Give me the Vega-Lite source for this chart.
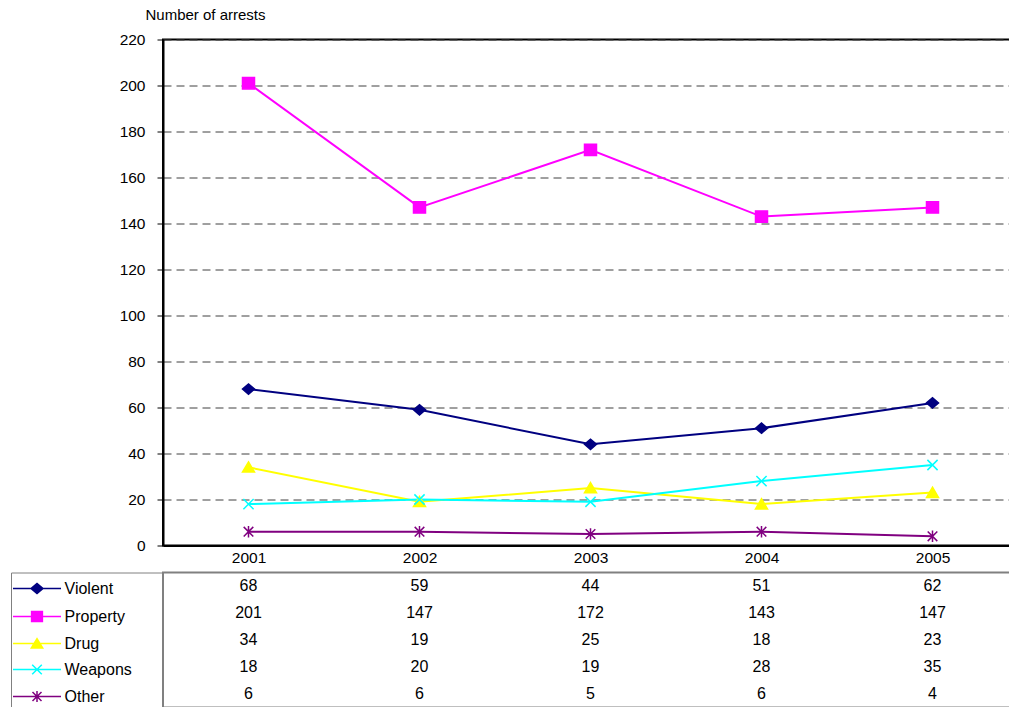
{
  "$schema": "https://vega.github.io/schema/vega-lite/v6.json",
  "padding": {"left": 9, "top": 6.5, "right": 0, "bottom": 0},
  "config": {"font": "Liberation Sans", "axis": {"labelColor": "black", "labelFontSize": 15}, "text": {"font": "Liberation Sans"}},
  "datasets": {
    "arrests": [
      {"series": "Violent", "year": "2001", "value": 68},
      {"series": "Violent", "year": "2002", "value": 59},
      {"series": "Violent", "year": "2003", "value": 44},
      {"series": "Violent", "year": "2004", "value": 51},
      {"series": "Violent", "year": "2005", "value": 62},
      {"series": "Property", "year": "2001", "value": 201},
      {"series": "Property", "year": "2002", "value": 147},
      {"series": "Property", "year": "2003", "value": 172},
      {"series": "Property", "year": "2004", "value": 143},
      {"series": "Property", "year": "2005", "value": 147},
      {"series": "Drug", "year": "2001", "value": 34},
      {"series": "Drug", "year": "2002", "value": 19},
      {"series": "Drug", "year": "2003", "value": 25},
      {"series": "Drug", "year": "2004", "value": 18},
      {"series": "Drug", "year": "2005", "value": 23},
      {"series": "Weapons", "year": "2001", "value": 18},
      {"series": "Weapons", "year": "2002", "value": 20},
      {"series": "Weapons", "year": "2003", "value": 19},
      {"series": "Weapons", "year": "2004", "value": 28},
      {"series": "Weapons", "year": "2005", "value": 35},
      {"series": "Other", "year": "2001", "value": 6},
      {"series": "Other", "year": "2002", "value": 6},
      {"series": "Other", "year": "2003", "value": 5},
      {"series": "Other", "year": "2004", "value": 6},
      {"series": "Other", "year": "2005", "value": 4}
    ]
  },
  "spacing": 27,
  "bounds": "flush",
  "resolve": {
    "scale": {"x": "independent", "y": "independent", "shape": "independent", "fill": "independent", "stroke": "independent"},
    "legend": {"shape": "independent", "fill": "independent", "stroke": "independent"}
  },
  "vconcat": [
    {
      "width": 855,
      "height": 506,
      "data": {"name": "arrests"},
      "view": {"stroke": "black", "strokeWidth": 2},
      "encoding": {
        "x": {
          "field": "year", "type": "ordinal",
          "scale": {"type": "point", "padding": 0.5},
          "axis": {"title": null, "ticks": false, "labelPadding": 5, "labelAngle": 0, "domainColor": "black", "domainWidth": 2, "labelFontSize": 15.5}
        },
        "y": {
          "field": "value", "type": "quantitative",
          "scale": {"domain": [0, 220], "nice": false},
          "axis": {
            "values": [0, 20, 40, 60, 80, 100, 120, 140, 160, 180, 200, 220],
            "title": "Number of arrests", "titleAngle": 0, "titleAlign": "left", "titleBaseline": "middle",
            "titleX": -18, "titleY": -25, "titleFontSize": 15, "titleFontWeight": "normal", "titleColor": "black",
            "grid": true, "gridDash": [8, 5], "gridColor": "#404040", "gridWidth": 1,
            "tickSize": 6, "tickColor": "black", "labelPadding": 12,
            "domainColor": "black", "domainWidth": 2, "labelFontSize": 15.5
          }
        }
      },
      "layer": [
        {
          "mark": {"type": "line", "strokeWidth": 2},
          "encoding": {
            "stroke": {
              "field": "series", "type": "nominal", "legend": null,
              "scale": {"domain": ["Violent", "Property", "Drug", "Weapons", "Other"], "range": ["#000080", "#FF00FF", "#FFFF00", "#00FFFF", "#800080"]}
            }
          }
        },
        {
          "mark": {"type": "point", "filled": true, "size": 144, "strokeWidth": 1.5, "opacity": 1},
          "encoding": {
            "shape": {
              "field": "series", "type": "nominal", "legend": null,
              "scale": {"domain": ["Violent", "Property", "Drug", "Weapons", "Other"], "range": [
                "M-1,0L0,-0.85L1,0L0,0.85Z",
                "M-1,-0.95H1V0.95H-1Z",
                "M0,-0.9L1,0.8L-1,0.8Z",
                "M-0.85,-0.85L0.85,0.85M0.85,-0.85L-0.85,0.85",
                "M-0.8,-0.8L0.8,0.8M0.8,-0.8L-0.8,0.8M0,-0.95V0.95"
              ]}
            },
            "fill": {
              "field": "series", "type": "nominal", "legend": null,
              "scale": {"domain": ["Violent", "Property", "Drug", "Weapons", "Other"], "range": ["#000080", "#FF00FF", "#FFFF00", "#00FFFF", "#800080"]}
            },
            "stroke": {
              "field": "series", "type": "nominal", "legend": null,
              "scale": {"domain": ["Violent", "Property", "Drug", "Weapons", "Other"], "range": ["#000080", "#FF00FF", "#FFFF00", "#00FFFF", "#800080"]}
            }
          }
        }
      ]
    },
    {
      "width": 855,
      "height": 135,
      "data": {"name": "arrests"},
      "view": {"stroke": "#808080", "strokeWidth": 2},
      "layer": [
        {
          "mark": {"type": "text", "fontSize": 16, "color": "black"},
          "encoding": {
            "x": {"field": "year", "type": "ordinal", "scale": {"type": "band", "paddingInner": 0, "paddingOuter": 0}, "axis": null},
            "y": {
              "field": "series", "type": "nominal",
              "sort": ["Violent", "Property", "Drug", "Weapons", "Other"],
              "scale": {"type": "band", "paddingInner": 0, "paddingOuter": 0},
              "axis": {"labels": false, "ticks": false, "title": null, "grid": false, "domainColor": "black", "domainWidth": 1}
            },
            "text": {"field": "value", "type": "quantitative"}
          }
        },
        {
          "transform": [{"filter": "datum.value < 0"}],
          "mark": {"type": "point", "filled": true, "size": 144, "strokeWidth": 1.5, "opacity": 1},
          "encoding": {
            "shape": {
              "field": "series", "type": "nominal",
              "scale": {"domain": ["Violent", "Property", "Drug", "Weapons", "Other"], "range": [
                "M-4,0H4M-1,0L0,-0.85L1,0L0,0.85Z",
                "M-4,0H4M-0.9,-0.85H0.9V0.85H-0.9Z",
                "M-4,0H4M0,-0.8L0.95,0.75L-0.95,0.75Z",
                "M-4,0H4M-0.8,-0.8L0.8,0.8M0.8,-0.8L-0.8,0.8",
                "M-4,0H4M-0.75,-0.75L0.75,0.75M0.75,-0.75L-0.75,0.75M0,-0.9V0.9"
              ]},
              "legend": {"title": " ", "orient": "left", "offset": 0, "padding": 8, "strokeColor": "#808080", "titleOrient": "right", "titlePadding": 23, "titleFontSize": 15, "symbolSize": 144, "symbolStrokeWidth": 1.5, "symbolOpacity": 1, "symbolOffset": 10, "labelOffset": 19.5, "labelFontSize": 16, "labelColor": "black", "rowPadding": 10}
            },
            "fill": {
              "field": "series", "type": "nominal",
              "scale": {"domain": ["Violent", "Property", "Drug", "Weapons", "Other"], "range": ["#000080", "#FF00FF", "#FFFF00", "#00FFFF", "#800080"]},
              "legend": {"title": " ", "orient": "left", "offset": 0, "padding": 8, "strokeColor": "#808080", "titleOrient": "right", "titlePadding": 23, "titleFontSize": 15, "symbolSize": 144, "symbolStrokeWidth": 1.5, "symbolOpacity": 1, "symbolOffset": 10, "labelOffset": 19.5, "labelFontSize": 16, "labelColor": "black", "rowPadding": 10}
            },
            "stroke": {
              "field": "series", "type": "nominal",
              "scale": {"domain": ["Violent", "Property", "Drug", "Weapons", "Other"], "range": ["#000080", "#FF00FF", "#FFFF00", "#00FFFF", "#800080"]},
              "legend": {"title": " ", "orient": "left", "offset": 0, "padding": 8, "strokeColor": "#808080", "titleOrient": "right", "titlePadding": 23, "titleFontSize": 15, "symbolSize": 144, "symbolStrokeWidth": 1.5, "symbolOpacity": 1, "symbolOffset": 10, "labelOffset": 19.5, "labelFontSize": 16, "labelColor": "black", "rowPadding": 10}
            }
          }
        }
      ]
    }
  ]
}
